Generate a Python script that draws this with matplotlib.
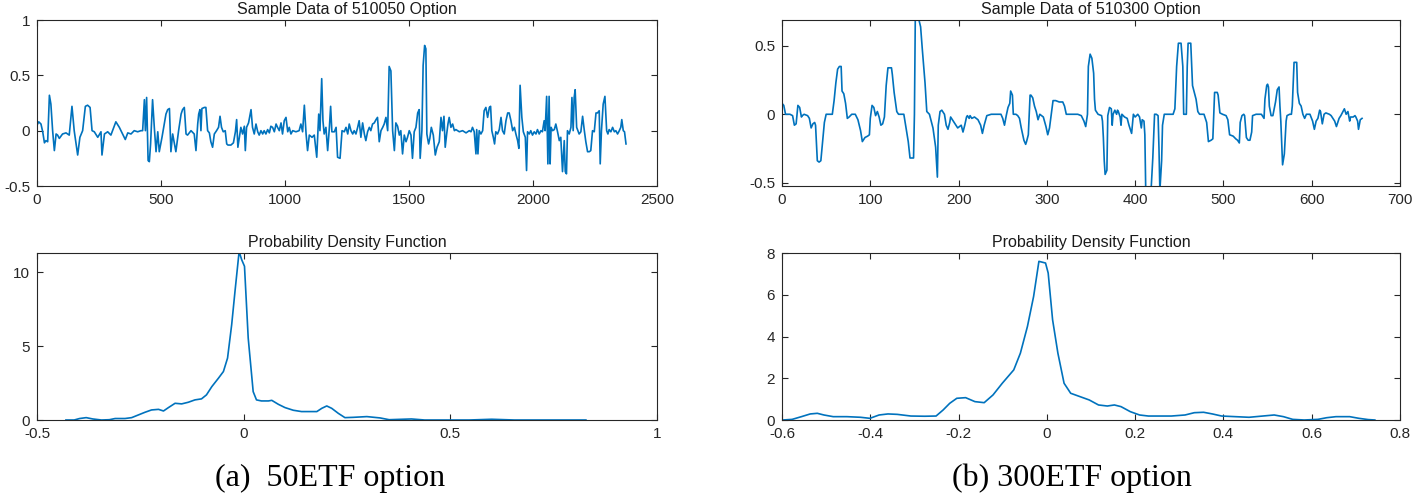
import matplotlib
matplotlib.use('Agg')
import matplotlib.pyplot as plt
from matplotlib.ticker import FormatStrFormatter

plt.rcParams['font.family'] = 'Liberation Sans'
plt.rcParams['axes.unicode_minus'] = False

# sample data of 510050 option
t50 = [0, 7, 16, 23, 30, 36, 43, 50, 56, 63, 70, 77, 83, 90, 103, 117, 130, 141, 150, 164,
       173, 184, 195, 204, 214, 222, 231, 245, 258, 262, 272, 285, 298, 318, 332, 345, 356, 366, 379, 392,
       406, 419, 426, 433, 437, 442, 448, 453, 458, 466, 473, 480, 487, 493, 504, 520, 527, 534, 540, 547,
       560, 571, 581, 587, 594, 601, 607, 621, 634, 641, 648, 652, 657, 661, 665, 675, 681, 688, 695, 701,
       708, 715, 724, 732, 738, 744, 751, 759, 765, 770, 782, 792, 800, 805, 810, 816, 822, 829, 836, 840,
       845, 853, 863, 869, 876, 883, 890, 896, 903, 910, 916, 923, 930, 937, 943, 950, 957, 964, 970, 977,
       984, 990, 997, 1004, 1011, 1017, 1024, 1031, 1044, 1057, 1064, 1071, 1078, 1085, 1091, 1098, 1109, 1118, 1128, 1136,
       1141, 1148, 1153, 1158, 1165, 1172, 1179, 1184, 1189, 1199, 1206, 1212, 1222, 1230, 1239, 1246, 1253, 1259, 1266, 1273,
       1279, 1286, 1293, 1299, 1306, 1313, 1320, 1326, 1333, 1340, 1346, 1353, 1360, 1367, 1373, 1380, 1387, 1394, 1400, 1407,
       1414, 1420, 1427, 1434, 1441, 1447, 1454, 1461, 1467, 1474, 1481, 1488, 1494, 1501, 1508, 1514, 1521, 1528, 1535, 1541,
       1545, 1552, 1557, 1563, 1568, 1572, 1579, 1584, 1590, 1598, 1606, 1613, 1622, 1629, 1635, 1641, 1646, 1652, 1657, 1662,
       1669, 1676, 1683, 1689, 1703, 1716, 1730, 1743, 1750, 1756, 1763, 1770, 1773, 1778, 1783, 1790, 1797, 1803, 1810, 1817,
       1824, 1829, 1834, 1840, 1845, 1850, 1857, 1864, 1871, 1877, 1884, 1891, 1898, 1904, 1911, 1918, 1925, 1931, 1938, 1943,
       1948, 1955, 1961, 1969, 1974, 1978, 1985, 1991, 1998, 2005, 2012, 2018, 2025, 2032, 2038, 2045, 2049, 2055, 2060, 2065,
       2069, 2073, 2079, 2086, 2092, 2099, 2106, 2112, 2119, 2126, 2130, 2135, 2139, 2146, 2153, 2157, 2162, 2166, 2170, 2176,
       2181, 2186, 2193, 2200, 2207, 2213, 2220, 2227, 2233, 2240, 2247, 2254, 2260, 2267, 2271, 2276, 2283, 2290, 2297, 2302,
       2307, 2314, 2321, 2328, 2334, 2341, 2348, 2354, 2358, 2364, 2369, 2375]
v50 = [0.05, 0.08, 0.06, -0.01, -0.11, -0.09, -0.10, 0.32, 0.24, 0.0, -0.18, -0.03, -0.04, -0.07, -0.03, -0.02, -0.04, 0.22, 0.0, -0.22,
       -0.06, 0.0, 0.22, 0.23, 0.21, 0.0, -0.01, -0.06, -0.01, -0.22, -0.03, -0.01, -0.04, 0.08, 0.03, -0.03, -0.08, -0.02, -0.03, 0.0,
       -0.01, 0.0, 0.0, 0.28, 0.0, 0.30, -0.27, -0.28, -0.12, 0.28, 0.03, -0.19, -0.01, -0.19, -0.06, 0.15, 0.19, 0.20, -0.19, -0.03,
       -0.19, 0.0, 0.15, 0.19, 0.21, -0.03, -0.04, 0.0, -0.03, -0.18, 0.06, 0.15, 0.19, 0.0, 0.20, 0.21, 0.21, 0.0, -0.02, -0.10,
       -0.15, -0.03, 0.0, 0.03, 0.13, 0.03, -0.01, 0.0, -0.12, -0.13, -0.13, -0.11, -0.01, 0.10, -0.15, -0.06, 0.03, -0.03, 0.04, -0.18,
       0.03, 0.07, 0.19, 0.03, -0.03, 0.06, -0.01, -0.04, 0.0, -0.03, 0.0, -0.03, 0.01, -0.02, 0.04, 0.03, -0.01, 0.06, 0.03, 0.0,
       0.07, -0.03, 0.09, 0.12, -0.01, 0.03, -0.03, 0.0, -0.01, 0.0, 0.06, -0.01, 0.23, -0.03, -0.18, -0.04, -0.06, -0.04, -0.24, 0.15,
       0.0, 0.47, 0.09, -0.03, 0.03, -0.18, 0.03, 0.22, -0.01, -0.01, 0.03, -0.24, -0.25, 0.0, -0.01, 0.03, -0.03, 0.06, 0.0, -0.03,
       0.0, -0.03, 0.03, 0.09, -0.06, 0.07, -0.03, -0.09, -0.01, 0.03, 0.0, 0.06, 0.07, 0.10, 0.12, -0.10, 0.0, 0.03, 0.06, 0.12,
       0.0, 0.58, 0.54, 0.0, -0.18, 0.07, 0.04, -0.04, 0.0, -0.21, -0.04, -0.10, -0.06, 0.0, -0.04, -0.25, -0.01, 0.03, 0.16, 0.19,
       -0.25, 0.0, 0.59, 0.77, 0.74, -0.03, -0.12, -0.07, 0.03, -0.04, -0.22, -0.15, -0.10, 0.12, 0.0, 0.13, -0.15, -0.03, 0.06, 0.12,
       0.03, 0.06, 0.0, 0.01, -0.01, 0.0, -0.02, 0.0, -0.01, 0.03, -0.01, -0.21, 0.01, -0.21, 0.0, -0.03, 0.0, 0.18, 0.21, 0.12,
       0.21, 0.22, 0.0, -0.06, -0.12, -0.01, -0.03, 0.01, 0.12, 0.0, -0.03, 0.09, 0.16, 0.16, 0.09, 0.0, 0.03, -0.03, -0.09, -0.16,
       0.41, 0.12, -0.01, -0.06, -0.36, -0.01, -0.03, 0.0, -0.04, -0.01, -0.03, 0.01, -0.03, 0.0, -0.01, 0.09, 0.0, 0.31, -0.30, 0.31,
       -0.30, 0.03, 0.0, 0.01, 0.06, -0.01, -0.09, -0.06, -0.37, -0.09, -0.37, -0.39, 0.0, -0.03, 0.03, 0.30, 0.0, 0.30, 0.37, 0.03,
       0.0, -0.03, -0.01, 0.13, 0.0, -0.10, -0.19, -0.19, -0.18, 0.0, -0.01, 0.16, 0.16, 0.18, -0.30, 0.0, 0.24, 0.31, 0.0, -0.03,
       0.01, -0.01, 0.03, -0.01, 0.0, -0.03, 0.0, 0.03, 0.10, 0.0, -0.01, -0.12]

# sample data of 510300 option
t300 = [0, 2, 4, 9, 12, 14, 16, 18, 20, 22, 23, 25, 29, 31, 33, 35, 37, 38, 40, 42,
        44, 46, 48, 50, 57, 59, 61, 63, 65, 67, 68, 70, 72, 74, 76, 79, 83, 86, 89, 91,
        94, 97, 99, 100, 102, 104, 106, 108, 110, 112, 114, 116, 118, 120, 124, 125, 127, 130, 132, 138,
        140, 143, 145, 149, 150, 151, 154, 157, 159, 162, 164, 167, 169, 171, 174, 176, 177, 179, 181, 184,
        186, 188, 190, 191, 195, 199, 203, 205, 207, 209, 210, 212, 213, 215, 218, 222, 225, 227, 229, 232,
        237, 248, 250, 252, 254, 256, 258, 259, 261, 262, 265, 267, 269, 271, 274, 276, 277, 279, 281, 282,
        284, 286, 288, 290, 292, 296, 299, 301, 303, 305, 307, 310, 314, 318, 320, 322, 335, 339, 342, 344,
        346, 347, 349, 351, 353, 354, 355, 358, 362, 363, 364, 365, 366, 368, 369, 371, 373, 374, 375, 377,
        379, 380, 381, 383, 384, 385, 388, 391, 393, 396, 398, 400, 403, 405, 407, 408, 410, 411, 412, 418,
        420, 422, 424, 426, 427, 428, 430, 431, 433, 443, 445, 447, 449, 452, 454, 455, 458, 459, 460, 463,
        465, 467, 469, 471, 473, 478, 481, 483, 486, 488, 489, 490, 493, 494, 496, 499, 503, 505, 507, 511,
        514, 516, 518, 519, 521, 523, 524, 526, 528, 530, 532, 533, 537, 543, 546, 547, 549, 550, 551, 552,
        554, 556, 559, 561, 563, 564, 565, 567, 569, 571, 572, 575, 577, 578, 580, 583, 584, 586, 588, 590,
        592, 594, 598, 601, 603, 605, 607, 609, 610, 612, 614, 616, 620, 622, 624, 626, 628, 630, 631, 633,
        637, 639, 641, 643, 644, 647, 649, 650, 652, 653, 655, 657]
v300 = [0.08, 0.065, 0.0, 0.0, -0.01, -0.08, -0.07, 0.065, 0.05, -0.02, -0.01, 0.0, -0.01, -0.03, -0.10, -0.07, -0.06, -0.08, -0.34, -0.35,
        -0.34, -0.20, -0.06, 0.0, 0.0, 0.10, 0.23, 0.33, 0.35, 0.35, 0.17, 0.15, 0.08, -0.03, -0.02, 0.0, 0.0, -0.04, -0.12, -0.20,
        -0.17, -0.16, -0.15, -0.03, 0.065, 0.05, -0.01, 0.02, -0.02, -0.08, -0.07, -0.02, 0.21, 0.34, 0.34, 0.29, 0.16, 0.02, 0.0, 0.0,
        -0.08, -0.20, -0.32, -0.32, 0.0, 0.72, 0.72, 0.64, 0.47, 0.23, 0.02, 0.0, -0.05, -0.10, -0.24, -0.46, -0.08, 0.02, 0.03, 0.0,
        -0.08, -0.11, -0.06, -0.02, -0.06, -0.10, -0.08, -0.13, -0.08, -0.02, -0.01, -0.03, -0.01, -0.03, -0.02, -0.04, -0.08, -0.14, -0.08, -0.01,
        0.0, 0.0, -0.03, -0.08, -0.01, 0.05, 0.08, 0.17, 0.14, 0.0, 0.0, -0.01, -0.03, -0.10, -0.19, -0.22, -0.20, -0.15, 0.14, 0.14,
        0.12, 0.06, 0.02, -0.04, 0.0, -0.02, -0.09, -0.15, -0.10, 0.0, 0.10, 0.10, 0.09, 0.09, 0.06, 0.0, 0.0, -0.01, -0.05, -0.09,
        0.0, 0.35, 0.44, 0.41, 0.30, 0.11, 0.03, 0.0, -0.01, -0.05, -0.17, -0.34, -0.44, -0.41, -0.01, 0.05, 0.04, -0.08, 0.0, 0.03,
        0.0, 0.03, 0.02, -0.02, -0.08, 0.0, -0.02, -0.03, -0.08, -0.14, 0.0, -0.02, 0.0, -0.02, -0.10, -0.04, -0.05, -0.15, -0.56, -0.56,
        -0.32, 0.0, 0.0, -0.01, -0.25, -0.56, -0.34, -0.08, 0.0, 0.0, 0.04, 0.35, 0.52, 0.52, 0.35, 0.0, 0.0, 0.35, 0.52, 0.52,
        0.21, 0.16, 0.11, 0.02, 0.0, 0.0, -0.06, -0.20, -0.19, -0.18, 0.0, 0.16, 0.16, 0.14, 0.01, 0.0, -0.01, -0.04, -0.15, -0.16,
        -0.18, -0.19, -0.21, -0.06, -0.01, 0.0, -0.01, -0.17, -0.19, -0.19, -0.13, -0.01, 0.0, 0.0, -0.03, 0.11, 0.21, 0.22, 0.20, 0.06,
        -0.01, -0.01, 0.09, 0.18, 0.20, 0.06, -0.05, -0.37, -0.29, -0.05, -0.01, 0.0, 0.0, 0.06, 0.38, 0.38, 0.16, 0.08, 0.06, 0.0,
        -0.03, 0.0, 0.0, -0.05, -0.11, -0.05, -0.03, 0.03, 0.02, -0.07, 0.0, 0.01, 0.0, -0.01, -0.03, -0.05, -0.09, -0.05, -0.03, -0.01,
        0.04, 0.0, 0.02, -0.05, -0.02, -0.02, -0.01, -0.02, -0.05, -0.11, -0.04, -0.03]

# probability density functions
pdf50_x = [-0.43, -0.41, -0.397, -0.381, -0.365, -0.344, -0.325, -0.311, -0.287, -0.271, -0.255, -0.239, -0.223, -0.206, -0.194,
           -0.182, -0.166, -0.15, -0.134, -0.118, -0.102, -0.09, -0.077, -0.061, -0.049, -0.039, -0.029, -0.021, -0.011, -0.005,
           0.002, 0.011, 0.023, 0.031, 0.043, 0.06, 0.068, 0.084, 0.1, 0.12, 0.14, 0.156, 0.177, 0.189, 0.201,
           0.213, 0.229, 0.245, 0.265, 0.298, 0.33, 0.352, 0.384, 0.406, 0.438, 0.49, 0.546, 0.6, 0.655, 0.709, 0.763, 0.828]
pdf50_y = [0.0, 0.0, 0.1, 0.16, 0.07, 0.0, 0.02, 0.1, 0.1, 0.16, 0.34, 0.52, 0.68, 0.72, 0.61,
           0.84, 1.13, 1.09, 1.2, 1.36, 1.43, 1.7, 2.26, 2.83, 3.28, 4.19, 6.45, 8.7, 11.4, 10.86,
           10.4, 5.54, 1.92, 1.36, 1.29, 1.29, 1.33, 1.06, 0.84, 0.66, 0.57, 0.57, 0.57, 0.79, 0.95,
           0.79, 0.45, 0.16, 0.18, 0.23, 0.14, 0.02, 0.05, 0.07, 0.0, 0.0, 0.0, 0.05, 0.0, 0.0, 0.0, 0.0]

pdf300_x = [-0.598, -0.577, -0.556, -0.536, -0.52, -0.505, -0.484, -0.453, -0.422, -0.401, -0.38, -0.36, -0.339, -0.308, -0.277,
            -0.251, -0.235, -0.22, -0.204, -0.184, -0.163, -0.142, -0.122, -0.101, -0.075, -0.06, -0.044, -0.03, -0.018, -0.003,
            0.003, 0.013, 0.025, 0.039, 0.054, 0.075, 0.096, 0.117, 0.137, 0.153, 0.168, 0.189, 0.21, 0.23, 0.251,
            0.282, 0.313, 0.334, 0.355, 0.375, 0.396, 0.427, 0.458, 0.489, 0.515, 0.536, 0.557, 0.583, 0.614, 0.634,
            0.655, 0.686, 0.707, 0.728, 0.743]
pdf300_y = [0.0, 0.03, 0.16, 0.29, 0.32, 0.24, 0.16, 0.16, 0.13, 0.08, 0.24, 0.29, 0.27, 0.19, 0.18,
            0.19, 0.48, 0.8, 1.04, 1.07, 0.88, 0.83, 1.2, 1.76, 2.4, 3.2, 4.48, 5.92, 7.6, 7.52,
            7.04, 4.8, 3.2, 1.76, 1.28, 1.12, 0.96, 0.72, 0.67, 0.72, 0.64, 0.4, 0.24, 0.19, 0.19,
            0.19, 0.24, 0.35, 0.37, 0.29, 0.19, 0.16, 0.13, 0.19, 0.24, 0.16, 0.03, 0.0, 0.03, 0.11,
            0.16, 0.16, 0.08, 0.02, 0.0]

LINE = '#0072BD'
INK = '#262626'
W, H = 1416, 498


def box(l, t, r, b):
    return [l / W, 1 - b / H, (r - l) / W, (b - t) / H]


def style(ax, xlim, ylim, xt, yt, title):
    ax.set_xlim(xlim)
    ax.set_ylim(ylim)
    ax.set_xticks(xt)
    ax.set_yticks(yt)
    ax.xaxis.set_major_formatter(FormatStrFormatter('%g'))
    ax.yaxis.set_major_formatter(FormatStrFormatter('%g'))
    ax.tick_params(direction='in', top=True, right=True, length=4, width=0.8,
                   labelsize=11, colors=INK, pad=5)
    for s in ax.spines.values():
        s.set_linewidth(0.8)
        s.set_color(INK)
    ax.set_title(title, fontsize=11.5, color='#1a1a1a', pad=4)


fig = plt.figure(figsize=(14.16, 4.98), dpi=100)

ax = fig.add_axes(box(37, 20, 657, 186))
ax.plot(t50, v50, color=LINE, lw=1.2)
style(ax, (0, 2500), (-0.5, 1), range(0, 2501, 500), [-0.5, 0, 0.5, 1], 'Sample Data of 510050 Option')

ax = fig.add_axes(box(782, 20, 1400, 186))
ax.plot(t300, v300, color=LINE, lw=1.2)
style(ax, (0, 700), (-0.525, 0.69), range(0, 701, 100), [-0.5, 0, 0.5], 'Sample Data of 510300 Option')

ax = fig.add_axes(box(37, 253, 657, 420))
ax.plot(pdf50_x, pdf50_y, color=LINE, lw=1.2)
style(ax, (-0.5, 1), (0, 11.3), [-0.5, 0, 0.5, 1], [0, 5, 10], 'Probability Density Function')

ax = fig.add_axes(box(782, 253, 1400, 420))
ax.plot(pdf300_x, pdf300_y, color=LINE, lw=1.2)
style(ax, (-0.6, 0.8), (0, 8), [-0.6, -0.4, -0.2, 0, 0.2, 0.4, 0.6, 0.8], [0, 2, 4, 6, 8],
      'Probability Density Function')

fig.text(330 / W, 1 - 478 / H, '(a)  50ETF option', ha='center', va='center',
         family='Liberation Serif', fontsize=23, color='black')
fig.text(1072 / W, 1 - 478 / H, '(b) 300ETF option', ha='center', va='center',
         family='Liberation Serif', fontsize=23, color='black')

fig.savefig('out.png', dpi=100)
print('Saved out.png')
